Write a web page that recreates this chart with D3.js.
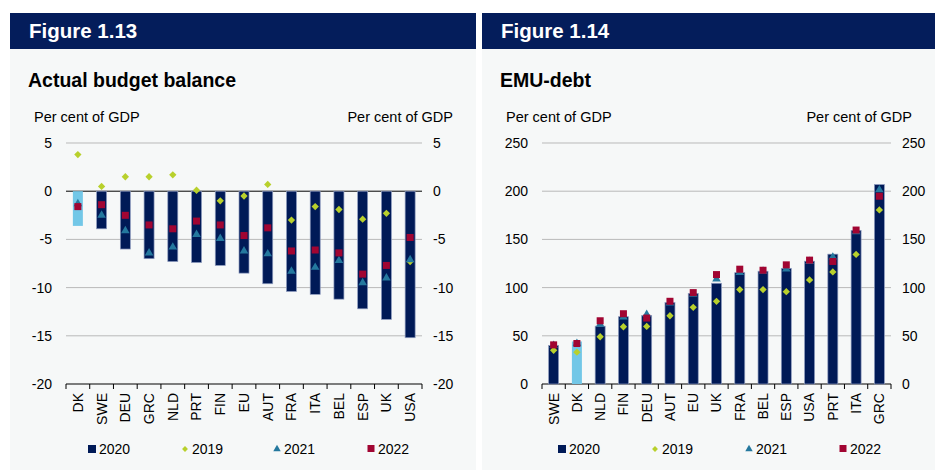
<!DOCTYPE html>
<html>
<head>
<meta charset="utf-8">
<script src="https://cdn.jsdelivr.net/npm/d3@7"></script>
<style>
  body { margin: 0; background: #fff; }
  svg { font-family: "Liberation Sans", Arial, sans-serif; }
</style>
</head>
<body>
<svg width="935" height="470"></svg>
<script>
// Figure 1.13 - actual budget balance, per cent of GDP
const balanceCountries = ['DK', 'SWE', 'DEU', 'GRC', 'NLD', 'PRT', 'FIN', 'EU', 'AUT', 'FRA', 'ITA', 'BEL', 'ESP', 'UK', 'USA'];
const balance2020 = [-3.6, -3.9, -6.0, -7.0, -7.3, -7.4, -7.7, -8.5, -9.6, -10.4, -10.7, -11.2, -12.2, -13.3, -15.2];
const balance2019 = [3.8, 0.5, 1.5, 1.5, 1.7, 0.1, -1.0, -0.5, 0.7, -3.0, -1.6, -1.9, -2.9, -2.3, -7.3];
const balance2021 = [-1.3, -2.5, -4.1, -6.4, -5.8, -4.5, -4.9, -6.2, -6.5, -8.3, -7.9, -7.2, -9.5, -9.0, -7.1];
const balance2022 = [-1.6, -1.4, -2.5, -3.5, -3.9, -3.1, -3.5, -4.6, -3.8, -6.2, -6.1, -6.4, -8.6, -7.7, -4.8];
const balanceTicks = [5, 0, -5, -10, -15, -20];

// Figure 1.14 - EMU-debt, per cent of GDP
const debtCountries = ['SWE', 'DK', 'NLD', 'FIN', 'DEU', 'AUT', 'EU', 'UK', 'FRA', 'BEL', 'ESP', 'USA', 'PRT', 'ITA', 'GRC'];
const debt2020 = [39.9, 44.1, 60.0, 69.8, 71.2, 84.5, 94.0, 104.5, 115.5, 117.0, 120.0, 127.4, 134.7, 159.4, 206.9];
const debt2019 = [35.0, 33.0, 49.0, 59.4, 59.7, 70.8, 79.5, 85.8, 98.0, 98.0, 95.8, 108.0, 116.3, 134.4, 180.6];
const debt2021 = [40.0, 42.0, 62.0, 69.5, 72.2, 84.0, 93.0, 109.0, 115.6, 117.0, 119.4, 127.0, 131.6, 158.0, 201.4];
const debt2022 = [40.6, 42.0, 65.6, 72.9, 68.4, 85.8, 94.8, 113.5, 119.1, 118.0, 123.6, 128.5, 127.1, 159.7, 194.8];
const debtTicks = [250, 200, 150, 100, 50, 0];

const legendYears = ['2020', '2019', '2021', '2022'];

const colors = {
  header: '#041d5b',
  panel: '#f6f8f8',
  bar: '#001a57',
  dk: '#72c7e7',
  y2019: '#b8d02c',
  y2021: '#24789e',
  y2022: '#a10532',
  grid: '#b9b9b9'
};

const svg = d3.select('svg');

function drawPanel(opt) {
  const g = svg.append('g');

  g.append('rect')
    .attr('x', opt.left).attr('y', 49)
    .attr('width', opt.right - opt.left).attr('height', 421)
    .attr('fill', colors.panel);
  g.append('rect')
    .attr('x', opt.left).attr('y', 13)
    .attr('width', opt.right - opt.left).attr('height', 36)
    .attr('fill', colors.header);
  g.append('text')
    .attr('x', opt.left + 19).attr('y', 38)
    .attr('fill', '#fff').attr('font-size', 20.5).attr('font-weight', 'bold')
    .text(opt.figure);
  g.append('text')
    .attr('x', opt.left + 18).attr('y', 87)
    .attr('fill', '#000').attr('font-size', 19.5).attr('font-weight', 'bold')
    .text(opt.title);
  g.append('text')
    .attr('x', opt.left + 24).attr('y', 122)
    .attr('font-size', 14.5).text('Per cent of GDP');
  g.append('text')
    .attr('x', opt.right - 23).attr('y', 122)
    .attr('text-anchor', 'end')
    .attr('font-size', 14.5).text('Per cent of GDP');

  const x = d3.scaleBand()
    .domain(opt.categories)
    .range([opt.x0, opt.x1]);
  const y = d3.scaleLinear()
    .domain(opt.domain)
    .range([384, 143]);

  // gridlines
  g.append('g')
    .selectAll('line')
    .data(opt.ticks)
    .join('line')
    .attr('x1', opt.x0).attr('x2', opt.x1)
    .attr('y1', d => y(d)).attr('y2', d => y(d))
    .attr('stroke', d => (d === 0 || d === opt.domain[0]) ? '#000' : colors.grid)
    .attr('stroke-width', 1);

  // y tick labels, both sides (plain hyphen for negatives, like the source)
  const fmt = d => String(d);
  const leftAxis = d3.axisLeft(y).tickValues(opt.ticks).tickFormat(fmt).tickSize(0).tickPadding(0);
  const rightAxis = d3.axisRight(y).tickValues(opt.ticks).tickFormat(fmt).tickSize(0).tickPadding(0);
  const la = g.append('g').attr('transform', `translate(${opt.x0 - 14},0)`).call(leftAxis);
  const ra = g.append('g').attr('transform', `translate(${opt.x1 + 11},0)`).call(rightAxis);
  [la, ra].forEach(a => {
    a.select('.domain').remove();
    a.selectAll('text').attr('font-size', 14).attr('font-family', null).attr('fill', '#000');
  });

  // bottom axis ticks between categories
  const edges = d3.range(opt.categories.length + 1)
    .map(i => opt.x0 + i * x.step());
  g.append('g')
    .selectAll('line')
    .data(edges)
    .join('line')
    .attr('x1', d => d).attr('x2', d => d)
    .attr('y1', 384).attr('y2', 389)
    .attr('stroke', '#000');

  // category labels
  g.append('g')
    .selectAll('text')
    .data(opt.categories)
    .join('text')
    .attr('transform', d => `translate(${x(d) + x.bandwidth() / 2},393) rotate(-90)`)
    .attr('text-anchor', 'end')
    .attr('dy', '0.35em')
    .attr('font-size', 14)
    .text(d => d);

  const cx = (d, i) => x(opt.categories[i]) + x.bandwidth() / 2;
  const barW = 10;

  // 2020 bars
  g.append('g')
    .selectAll('rect')
    .data(opt.v2020)
    .join('rect')
    .attr('x', (d, i) => cx(d, i) - barW / 2)
    .attr('width', barW)
    .attr('y', d => Math.min(y(d), y(opt.base)))
    .attr('height', d => Math.abs(y(d) - y(opt.base)))
    .attr('fill', (d, i) => opt.categories[i] === 'DK' ? colors.dk : colors.bar)
    .attr('stroke', (d, i) => opt.categories[i] === 'DK' ? 'none' : '#8e9cbf')
    .attr('stroke-width', 0.7);

  // 2019 diamonds
  g.append('g')
    .selectAll('path')
    .data(opt.v2019)
    .join('path')
    .attr('d', d3.symbol(d3.symbolDiamond2, 34))
    .attr('transform', (d, i) => `translate(${cx(d, i)},${y(d)})`)
    .attr('fill', colors.y2019);

  // 2021 triangles
  g.append('g')
    .selectAll('path')
    .data(opt.v2021)
    .join('path')
    .attr('d', d3.symbol(d3.symbolTriangle, 32))
    .attr('transform', (d, i) => `translate(${cx(d, i)},${y(d)})`)
    .attr('fill', colors.y2021);

  // 2022 squares
  g.append('g')
    .selectAll('rect')
    .data(opt.v2022)
    .join('rect')
    .attr('x', (d, i) => cx(d, i) - 3.5)
    .attr('y', d => y(d) - 3.5)
    .attr('width', 7).attr('height', 7)
    .attr('fill', colors.y2022);

  // legend
  const lg = g.append('g').attr('transform', 'translate(0,449)');
  const items = legendYears.map((yr, i) => ({ yr, x: opt.legendX[i] }));
  items.forEach(it => {
    if (it.yr === '2020') {
      lg.append('rect').attr('x', it.x - 4).attr('y', -4).attr('width', 8).attr('height', 8).attr('fill', colors.bar);
    } else if (it.yr === '2019') {
      lg.append('path').attr('d', d3.symbol(d3.symbolDiamond2, 22)).attr('transform', `translate(${it.x},0)`).attr('fill', colors.y2019);
    } else if (it.yr === '2021') {
      lg.append('path').attr('d', d3.symbol(d3.symbolTriangle, 24)).attr('transform', `translate(${it.x},0)`).attr('fill', colors.y2021);
    } else {
      lg.append('rect').attr('x', it.x - 3.5).attr('y', -4).attr('width', 7).attr('height', 7).attr('fill', colors.y2022);
    }
    lg.append('text')
      .attr('x', it.x + 7).attr('dy', '0.35em')
      .attr('font-size', 14).text(it.yr);
  });
}

drawPanel({
  left: 10, right: 476,
  figure: 'Figure 1.13', title: 'Actual budget balance',
  categories: balanceCountries,
  v2020: balance2020, v2019: balance2019, v2021: balance2021, v2022: balance2022,
  domain: [-20, 5], ticks: balanceTicks, base: 0,
  x0: 66, x1: 422,
  legendX: [92, 185, 277, 371]
});

drawPanel({
  left: 482, right: 935,
  figure: 'Figure 1.14', title: 'EMU-debt',
  categories: debtCountries,
  v2020: debt2020, v2019: debt2019, v2021: debt2021, v2022: debt2022,
  domain: [0, 250], ticks: debtTicks, base: 0,
  x0: 542, x1: 891,
  legendX: [562, 655, 749, 843]
});
</script>
</body>
</html>
